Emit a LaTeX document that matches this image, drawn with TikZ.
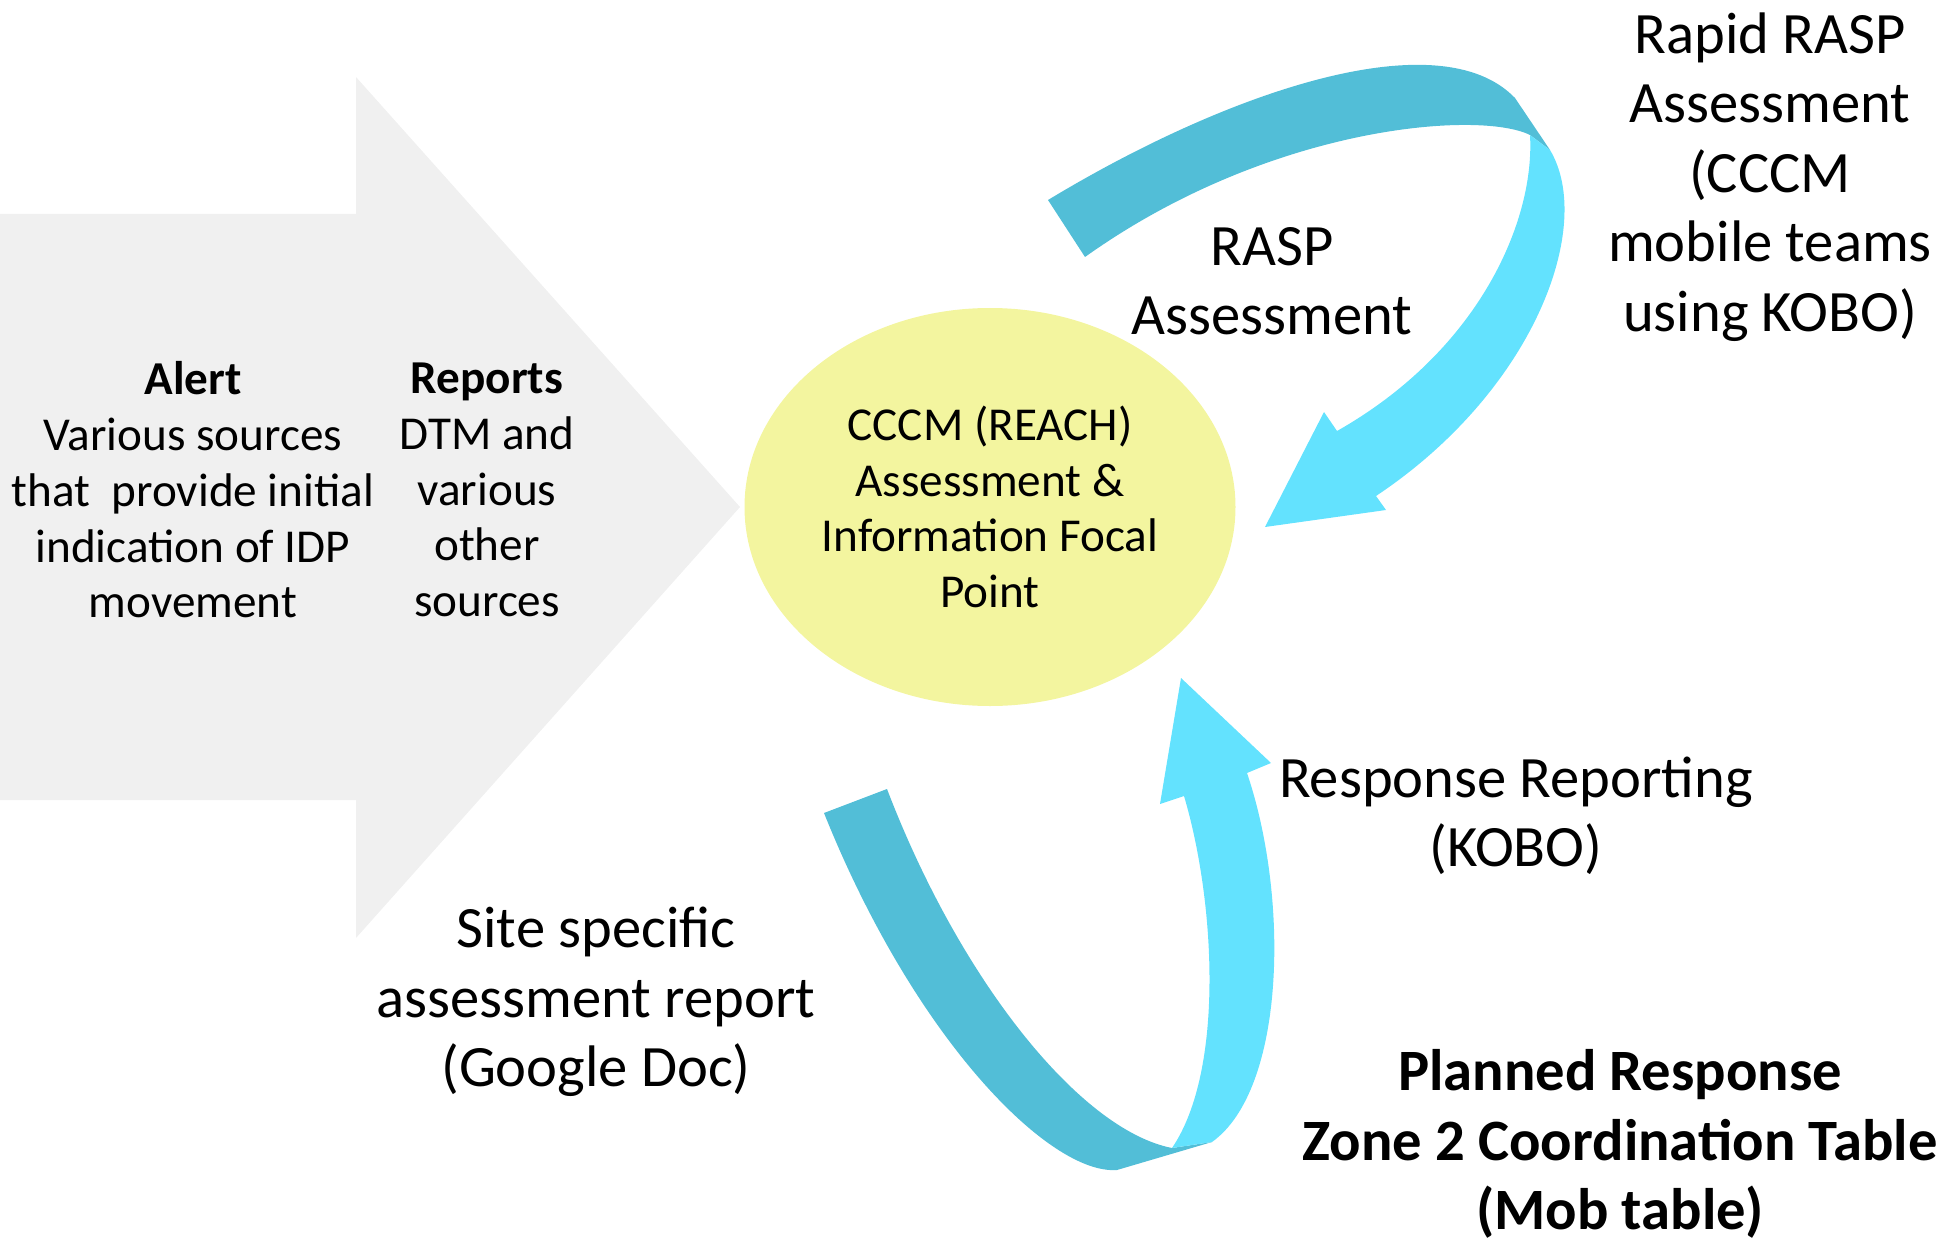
\documentclass[tikz,border=0pt]{standalone}
\usepackage{fontspec}
\setmainfont{Carlito}
\usetikzlibrary{shapes.geometric}
\definecolor{arrowgray}{HTML}{F0F0F0}
\definecolor{focalyellow}{HTML}{F3F59F}
\definecolor{darkband}{HTML}{52BED7}
\definecolor{lightband}{HTML}{63E2FE}
\tikzset{
  smalltext/.style={align=center, font=\fontsize{23.6}{27.9}\selectfont},
  bigtext/.style={align=center, font=\fontsize{29.3}{34.7}\selectfont},
}
\begin{document}
\begin{tikzpicture}[x=0.5pt,y=-0.5pt]
\useasboundingbox (0,0) rectangle (1944,1241);
% grey input arrow
\fill[arrowgray] (0,214) -- (356,214) -- (356,77) -- (740,507) -- (356,938) -- (356,800) -- (0,800) -- cycle;
\node[smalltext] (alert) at (193,490) {\textbf{Alert}\\Various sources\\that\ \ provide initial\\indication of IDP\\movement};
\node[smalltext] (reports) at (487,490) {\textbf{Reports}\\DTM and\\various\\other\\sources};
% focal point
\node[ellipse, fill=focalyellow, minimum width=245.5pt, minimum height=199pt, inner sep=0pt] (focal) at (990,507) {};
\node[smalltext] (focaltext) at (focal.center) {CCCM (REACH)\\Assessment \&\\Information Focal\\Point};
% top loop
\fill[darkband] (1048,200) .. controls (1230,90) and (1440,20) .. (1515,98) -- (1550,150) -- (1530,135)
  .. controls (1480,110) and (1270,125) .. (1085,257) -- cycle;
\fill[lightband] (1530,135) -- (1550,150) .. controls (1595,225) and (1535,390) .. (1376,496)
  -- (1386,510) -- (1265,527) -- (1324,412) -- (1337,431)
  .. controls (1480,350) and (1535,220) .. (1530,135) -- cycle;
% bottom loop
\fill[darkband] (824,813) .. controls (915,1040) and (1050,1175) .. (1117,1170) -- (1212,1142) -- (1172,1148)
  .. controls (1080,1130) and (960,980) .. (887,789) -- cycle;
\fill[lightband] (1172,1148) -- (1212,1142) .. controls (1285,1090) and (1290,900) .. (1247,773)
  -- (1271,763) -- (1181,678) -- (1160,804) -- (1184,796)
  .. controls (1215,900) and (1225,1070) .. (1172,1148) -- cycle;
% labels
\node[bigtext] (rasp) at (1272,281) {RASP\\Assessment};
\node[bigtext] (rapid) at (1770,177) {Rapid RASP\\Assessment\\(CCCM\\mobile teams\\using KOBO)};
\node[bigtext] (response) at (1516,816) {Response Reporting\\(KOBO)};
\node[bigtext] (site) at (596,1002) {Site specific\\assessment report\\(Google Doc)};
\node[bigtext, font=\fontsize{29.3}{34.7}\selectfont\bfseries] (planned) at (1620,1144) {Planned Response\\Zone 2 Coordination Table\\(Mob table)};
\end{tikzpicture}
\end{document}
